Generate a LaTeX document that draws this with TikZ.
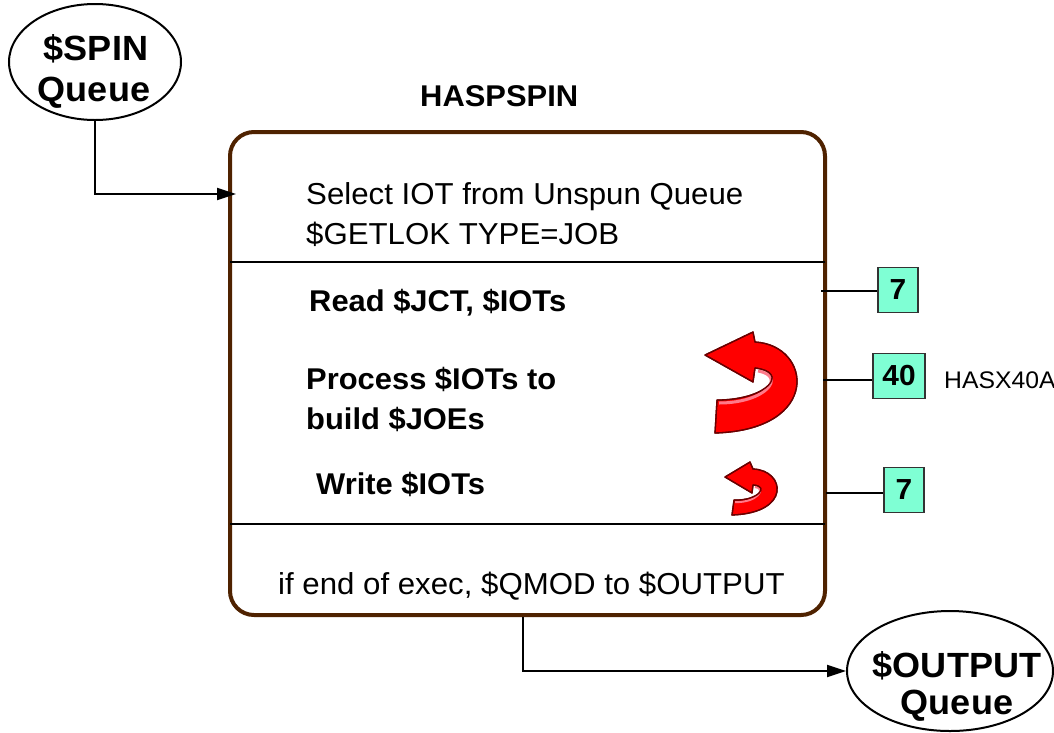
\documentclass[tikz,border=0pt]{standalone}
\usepackage{fontspec}
\setmainfont[FakeStretch=1.03]{Liberation Sans}
\usetikzlibrary{arrows.meta,shapes.geometric}
\definecolor{boxbrown}{HTML}{4F2200}
\definecolor{aqua}{HTML}{7FFFD4}
\definecolor{arrred}{HTML}{FF0000}
\definecolor{arredge}{HTML}{6A0000}
\definecolor{arrpink}{HTML}{FF7A8A}
\begin{document}
\begin{tikzpicture}[x=1pt,y=-1pt,
  txt/.style={inner sep=0pt, font=\fontsize{30.3}{36}\selectfont},
  btxt/.style={inner sep=0pt, font=\fontsize{30}{36}\selectfont\bfseries},
  qtxt/.style={inner sep=0pt, font=\fontsize{35}{40}\selectfont\bfseries},
  numbox/.style={draw=black!80, fill=aqua, line width=1.2pt, inner sep=0pt, minimum height=45pt, font=\fontsize{29}{35}\selectfont\bfseries},
  conn/.style={line width=2pt, -{Triangle[length=19pt,width=12pt]}},
  tick/.style={line width=1.2pt},
  queue/.style={draw, ellipse, line width=2pt, inner sep=0pt},
  redarr/.style={fill=arrred, draw=arredge, line width=1.3pt, line join=round},
  bevel/.style={draw=arrpink, line width=3pt}]
\useasboundingbox (0,0) rectangle (1054,732);

% main box
\node[draw=boxbrown, line width=4pt, rounded corners=24pt, minimum width=595pt, minimum height=483pt, inner sep=0pt] (main) at (527.5,373.5) {};
\draw[line width=1.2pt] (230,262) -- (825,262);
\draw[line width=1.2pt] (230,524) -- (825,524);

% title and texts
\node[btxt, anchor=base west] (title) at (420,106) {HASPSPIN};
\node[txt, anchor=base west] (sel) at (306,204) {Select IOT from Unspun Queue};
\node[txt, anchor=base west] (getlok) at (306,244) {\$GETLOK TYPE=JOB};
\node[btxt, anchor=base west] (read) at (309,311) {Read \$JCT, \$IOTs};
\node[btxt, anchor=base west] (proc) at (306,389) {Process \$IOTs to};
\node[btxt, anchor=base west] (build) at (306,429) {build \$JOEs};
\node[btxt, anchor=base west] (write) at (316,494) {Write \$IOTs};
\node[txt, anchor=base west] (ifend) at (278,594) {if end of exec, \$QMOD to \$OUTPUT};

% queues
\node[queue, minimum width=172pt, minimum height=116pt] (spin) at (95,62) {};
\node[qtxt, anchor=base] (spin1) at (96,60) {\$SPIN};
\node[qtxt, anchor=base] (spin2) at (94,101) {Queue};
\node[queue, minimum width=206pt, minimum height=120pt] (out) at (950,671) {};
\node[qtxt, anchor=base] (out1) at (957,677) {\$OUTPUT};
\node[qtxt, anchor=base] (out2) at (957,714) {Queue};

% connectors
\coordinate (inA) at (236,194);
\draw[conn] (spin.south) |- (inA);
\coordinate (mb) at (523,617);
\draw[conn] (mb) |- (out.west);

% number boxes
\node[numbox, minimum width=40pt] (n7a) at (898,290) {7};
\node[numbox, minimum width=52pt] (n40) at (899,376) {40};
\node[numbox, minimum width=40pt] (n7b) at (904,490) {7};
\coordinate (t1) at (821,291);
\draw[tick] (t1) -- (t1 -| n7a.west);
\coordinate (t2) at (823,380);
\draw[tick] (t2) -- (t2 -| n40.west);
\coordinate (t3) at (826,493);
\draw[tick] (t3) -- (t3 -| n7b.west);
\node[inner sep=0pt, anchor=west, font=\fontsize{24}{28}\selectfont] (hasx) at (944,380) {HASX40A};

% big red U-turn arrow
\path[redarr] (705,355) -- (753,332) -- (755,342) .. controls (812,345) and (822,430) .. (715,433) -- (717,400) .. controls (768,400) and (790,372) .. (755,368) -- (753,382) -- cycle;
\draw[bevel] (719,403) .. controls (766,403) and (787,376) .. (758,371);
\draw[draw=arredge, line width=1.3pt, line join=round] (705,355) -- (753,332) -- (755,342) .. controls (812,345) and (822,430) .. (715,433) -- (717,400) .. controls (768,400) and (790,372) .. (755,368) -- (753,382) -- cycle;

% small red U-turn arrow
\path[redarr] (725,477) -- (750,462) -- (753,469) .. controls (785,470) and (792,513) .. (732,515) -- (734,500) .. controls (758,501) and (770,486) .. (753,485) -- (752,493) -- cycle;
\draw[bevel, line width=2pt] (735,502) .. controls (757,503) and (767,488) .. (755,487);
\draw[draw=arredge, line width=1.3pt, line join=round] (725,477) -- (750,462) -- (753,469) .. controls (785,470) and (792,513) .. (732,515) -- (734,500) .. controls (758,501) and (770,486) .. (753,485) -- (752,493) -- cycle;
\end{tikzpicture}
\end{document}
